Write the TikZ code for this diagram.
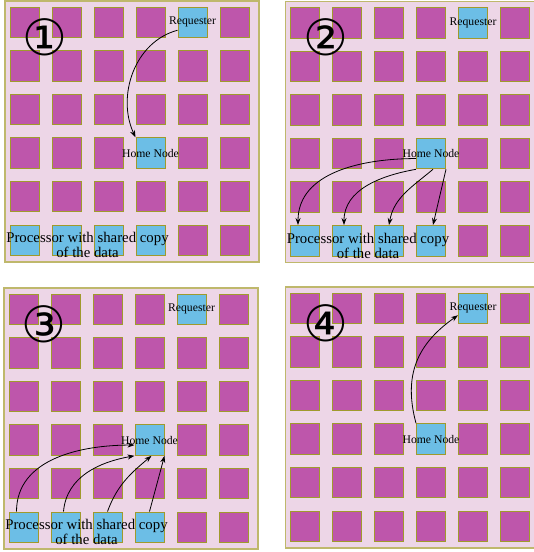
\documentclass[tikz,border=0pt]{standalone}
\usepackage{fontspec}
\setmainfont{Liberation Serif}
\newfontfamily\circfont{DejaVu Sans}
\usetikzlibrary{calc, arrows.meta, positioning}
\definecolor{meshbg}{HTML}{EDD6E7}
\definecolor{meshborder}{HTML}{BFB86C}
\definecolor{tilefill}{HTML}{BE56AB}
\definecolor{tileborder}{HTML}{A09A2C}
\definecolor{sharerfill}{HTML}{6CBEE6}

\begin{document}
\begin{tikzpicture}[
    x=1pt, y=1pt,
    >={Stealth[length=7pt, width=5pt]},
    line width=0.8pt,
    mesh/.style={fill=meshbg, draw=meshborder, line width=1.3pt},
    tile/.style={draw=tileborder, fill=#1, line width=1pt, minimum width=29pt, minimum height=30.5pt, inner sep=0pt},
    tag/.style={font=\fontsize{11.7}{12}\selectfont, inner sep=0pt},
    sharetag/.style={font=\fontsize{14.8}{15}\selectfont, align=center, inner sep=0pt},
    stepnum/.style={font=\circfont\fontsize{50}{50}\selectfont, inner sep=0pt},
    flow/.style={->, black, line width=0.8pt}
]
    \useasboundingbox (0,0) rectangle (534,-552);

    % --- Four snapshots of the 6x6 mesh, one per step ---
    \foreach \p/\ox/\oy/\badge in {1/5/1/①, 2/285.5/1.5/②, 3/4/288/③, 4/285.5/287/④} {
        \draw[mesh] (\ox,-\oy) rectangle ++(254,-261);
        \foreach \i in {0,...,5} {
            \foreach \j in {0,...,5} {
                \pgfmathtruncatemacro\lit{(\i==4 && \j==0) || (\i==3 && \j==3) || (\j==5 && \i<4 && \p<4)}
                \ifnum\lit=1 \def\tilecol{sharerfill}\else\def\tilecol{tilefill}\fi
                \node[tile=\tilecol] (p\p c\i\j) at (\ox+19.5+42*\i, -\oy-21.25-43.6*\j) {};
            }
        }
        \node[stepnum] (p\p num) at (\ox+40, -\oy-36) {\badge};
        \node[tag] (p\p req) at (p\p c40) {Requester};
        \node[tag] (p\p home) at (p\p c33) {Home Node};
    }

    % Sharer labels (steps 1-3)
    \foreach \p in {1,2,3}
        \node[sharetag] (p\p share) at ($(p\p c05)!0.5!(p\p c35)+(0,-5)$) {Processor with shared copy\\of the data};

    % --- Step 1: requester asks the home node ---
    \draw[flow] ([yshift=-8pt]p1c40.west) to[out=195, in=115] (p1c33.north west);

    % --- Step 2: home node forwards to the sharers ---
    \draw[flow] ([yshift=-5pt]p2c33.west) to[out=180, in=90] ([xshift=-7pt]p2c05.north);
    \draw[flow] (p2c33.south west) to[out=190, in=90] ([xshift=-3pt]p2c15.north);
    \draw[flow] ([xshift=2pt]p2c33.south) to[out=220, in=80] (p2c25.north);
    \draw[flow] (p2c33.south east) -- ([xshift=2pt]p2c35.north);

    % --- Step 3: sharers answer the home node ---
    \draw[flow] ([xshift=-7pt]p3c05.north) to[out=90, in=180] ([yshift=-5pt]p3c33.west);
    \draw[flow] ([xshift=-2pt]p3c15.north) to[out=85, in=190] (p3c33.south west);
    \draw[flow] (p3c25.north) to[out=70, in=220] ([xshift=2pt]p3c33.south);
    \draw[flow] (p3c35.north) -- (p3c33.south east);

    % --- Step 4: home node replies to the requester ---
    \draw[flow] (p4c33.north west) to[out=105, in=215, looseness=1.1] ([yshift=-7pt]p4c40.west);

\end{tikzpicture}
\end{document}
